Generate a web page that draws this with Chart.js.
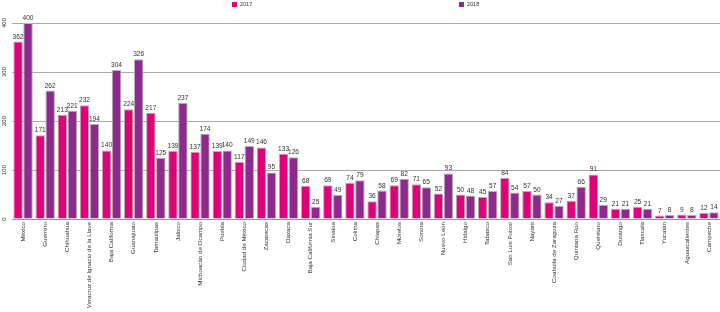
<!DOCTYPE html>
<html>
<head>
<meta charset="utf-8">
<script src="https://cdn.jsdelivr.net/npm/chart.js@4/dist/chart.umd.min.js"></script>
<style>
  body { margin: 0; background: #fff; }
  #wrap { position: relative; width: 720px; height: 312px; }
  .leg { position: absolute; top: 1px; font: 5.5px "Liberation Sans", Arial, sans-serif; color: #333; }
  .leg i { display: inline-block; width: 5px; height: 5px; margin-right: 3px; vertical-align: -1px; }
</style>
</head>
<body>
<div id="wrap">
  <canvas id="chart"></canvas>
  <div class="leg" style="left:232px"><i style="background:#E0007A"></i>2017</div>
  <div class="leg" style="left:459px"><i style="background:#8E2A8E"></i>2018</div>
</div>
<script>
const ctx = document.getElementById('chart').getContext('2d');

// Estados
const states = [
  'México', 'Guerrero', 'Chihuahua', 'Veracruz de Ignacio de la Llave', 'Baja California',
  'Guanajuato', 'Tamaulipas', 'Jalisco', 'Michoacán de Ocampo', 'Puebla',
  'Ciudad de México', 'Zacatecas', 'Oaxaca', 'Baja California Sur', 'Sinaloa',
  'Colima', 'Chiapas', 'Morelos', 'Sonora', 'Nuevo León',
  'Hidalgo', 'Tabasco', 'San Luis Potosí', 'Nayarit', 'Coahuila de Zaragoza',
  'Quintana Roo', 'Querétaro', 'Durango', 'Tlaxcala', 'Yucatán',
  'Aguascalientes', 'Campeche'
];

const values2017 = [362, 171, 213, 232, 140, 224, 217, 139, 137, 139, 117, 146, 133, 68, 69, 74, 36, 69, 71, 52, 50, 45, 84, 57, 34, 37, 91, 21, 25, 7, 9, 12];
const values2018 = [400, 262, 221, 194, 304, 326, 125, 237, 174, 140, 149, 95, 126, 25, 49, 79, 58, 82, 65, 93, 48, 57, 54, 50, 27, 66, 29, 21, 21, 8, 8, 14];

const yTicks = [0, 100, 200, 300, 400];

// values above the bars
const barLabels = {
  id: 'barLabels',
  afterDatasetsDraw(chart) {
    const c = chart.ctx;
    c.save();
    c.font = '6.6px "Liberation Sans", Arial, sans-serif';
    c.fillStyle = '#333';
    c.textAlign = 'center';
    c.textBaseline = 'bottom';
    chart.data.datasets.forEach((ds, i) => {
      chart.getDatasetMeta(i).data.forEach((bar, j) => {
        c.fillText(ds.data[j], bar.x, bar.y - 1.5);
      });
    });
    c.restore();
  }
};

// rotated y tick labels
const yLabels = {
  id: 'yLabels',
  afterDraw(chart) {
    const c = chart.ctx;
    const y = chart.scales.y;
    c.save();
    c.font = '6px "Liberation Sans", Arial, sans-serif';
    c.fillStyle = '#333';
    c.textAlign = 'center';
    c.textBaseline = 'middle';
    yTicks.forEach(v => {
      c.save();
      c.translate(4, y.getPixelForValue(v));
      c.rotate(-Math.PI / 2);
      c.fillText(v, 0, 0);
      c.restore();
    });
    c.restore();
  }
};

let chart = new Chart(ctx, {
  type: 'bar',
  data: {
    labels: states,
    datasets: [
      {
        label: '2017',
        data: values2017,
        backgroundColor: '#E0007A',
        borderColor: '#b0b0b0',
        borderWidth: 1
      },
      {
        label: '2018',
        data: values2018,
        backgroundColor: '#8E2A8E',
        borderColor: '#b0b0b0',
        borderWidth: 1
      }
    ]
  },
  options: {
    responsive: true,
    maintainAspectRatio: false,
    animation: false,
    layout: { padding: { top: 23, right: 0, left: 0, bottom: 0 } },
    plugins: { legend: { display: false }, tooltip: { enabled: false } },
    datasets: { bar: { categoryPercentage: 0.9, barPercentage: 0.95 } },
    scales: {
      x: {
        grid: { display: false, drawTicks: false },
        border: { display: true, color: '#999', width: 1 },
        ticks: {
          autoSkip: false,
          minRotation: 90,
          maxRotation: 90,
          padding: 3,
          color: '#333',
          font: { family: '"Liberation Sans", Arial, sans-serif', size: 6.2 }
        },
        afterFit: s => { s.height = 93; }
      },
      y: {
        min: 0,
        max: 400,
        grid: { color: '#aaa', lineWidth: 1, drawTicks: false },
        border: { display: false },
        ticks: { stepSize: 100, display: false },
        afterFit: s => { s.width = 12; }
      }
    }
  },
  plugins: [barLabels, yLabels]
});
</script>
</body>
</html>
